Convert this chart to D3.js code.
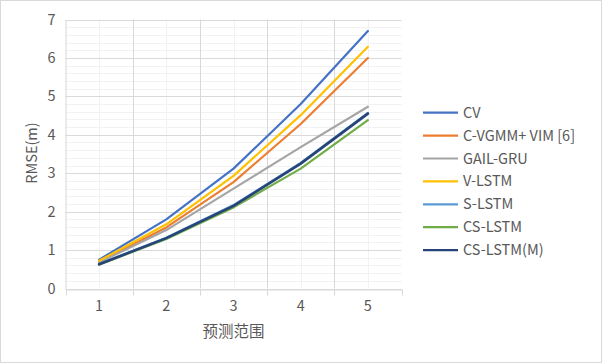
<!DOCTYPE html>
<html>
<head>
<meta charset="utf-8">
<script src="https://cdn.jsdelivr.net/npm/d3@7"></script>
<style>
body { margin: 0; background: #fff; }
text { font-family: "Noto Sans CJK SC", "Noto Sans", sans-serif; fill: #595959; }
</style>
</head>
<body>
<script>
var categories = [1, 2, 3, 4, 5]
var yTicks = [0, 1, 2, 3, 4, 5, 6, 7]
var seriesNames = ["CV", "C-VGMM+ VIM [6]", "GAIL-GRU", "V-LSTM", "S-LSTM", "CS-LSTM", "CS-LSTM(M)"]
var seriesColors = ["#4472C4", "#ED7D31", "#A5A5A5", "#FFC000", "#5B9BD5", "#70AD47", "#264478"]
var cv = [0.75, 1.80, 3.12, 4.80, 6.70]
var cvgmm = [0.70, 1.59, 2.77, 4.28, 6.00]
var gail = [0.68, 1.52, 2.60, 3.68, 4.73]
var vlstm = [0.72, 1.67, 2.93, 4.51, 6.29]
var slstm = [0.64, 1.32, 2.17, 3.27, 4.57]
var cslstm = [0.62, 1.29, 2.11, 3.12, 4.38]
var cslstmM = [0.63, 1.31, 2.15, 3.25, 4.55]
var seriesValues = [cv, cvgmm, gail, vlstm, slstm, cslstm, cslstmM]

var width = 602
var height = 364
var margin = { top: 19.5, bottom: 75.5, left: 65.5, right: 200.5 }

var svg = d3.select("body").append("svg")
    .attr("width", width)
    .attr("height", height)

svg.append("rect")
    .attr("x", 0.5).attr("y", 0.5)
    .attr("width", width - 1).attr("height", height - 2)
    .attr("fill", "#fff")
    .attr("stroke", "#d9d9d9")

var escalaX = d3.scaleBand()
    .domain(categories)
    .range([margin.left, width - margin.right])

var escalaY = d3.scaleLinear()
    .domain([0, 7])
    .range([height - margin.bottom, margin.top])

// minor gridlines
var minor = d3.range(0, 7.01, 0.2).filter(v => Math.abs(v - Math.round(v)) > 0.01)
svg.append("g").selectAll("line").data(minor).enter().append("line")
    .attr("x1", margin.left).attr("x2", width - margin.right)
    .attr("y1", d => Math.round(escalaY(d)) + 0.5).attr("y2", d => Math.round(escalaY(d)) + 0.5)
    .attr("stroke", "#f2f2f2")
svg.append("g").selectAll("line").data(categories).enter().append("line")
    .attr("x1", d => Math.round(escalaX(d) + escalaX.bandwidth() / 2) + 0.5)
    .attr("x2", d => Math.round(escalaX(d) + escalaX.bandwidth() / 2) + 0.5)
    .attr("y1", margin.top).attr("y2", height - margin.bottom)
    .attr("stroke", "#f2f2f2")

// major gridlines
svg.append("g").selectAll("line").data(yTicks).enter().append("line")
    .attr("x1", margin.left).attr("x2", width - margin.right)
    .attr("y1", d => Math.round(escalaY(d)) + 0.5).attr("y2", d => Math.round(escalaY(d)) + 0.5)
    .attr("stroke", "#d9d9d9")
svg.append("g").selectAll("line").data(categories.slice(1)).enter().append("line")
    .attr("x1", d => Math.round(escalaX(d)) + 0.5).attr("x2", d => Math.round(escalaX(d)) + 0.5)
    .attr("y1", margin.top).attr("y2", height - margin.bottom)
    .attr("stroke", "#d9d9d9")

// y axis labels
var ejeY = d3.axisLeft(escalaY).tickValues(yTicks).tickFormat(d3.format("d")).tickSize(0).tickPadding(10)
var gy = svg.append("g")
    .attr("transform", "translate(" + margin.left + ",0)")
    .call(ejeY)
gy.select(".domain").attr("stroke", "#d9d9d9")
gy.selectAll("text").style("font-size", "14.5px").attr("fill", "#595959")

// x axis
var ejeX = d3.axisBottom(escalaX).tickSize(0).tickPadding(11)
var gx = svg.append("g")
    .attr("transform", "translate(0," + (Math.round(escalaY(0)) + 0.5) + ")")
    .call(ejeX)
gx.select(".domain").attr("stroke", "#d9d9d9")
gx.selectAll("text").style("font-size", "14.5px").attr("fill", "#595959")
var bounds = categories.map(d => escalaX(d)).concat([width - margin.right])
gx.append("g").selectAll("line").data(bounds).enter().append("line")
    .attr("x1", d => Math.round(d) + 0.5).attr("x2", d => Math.round(d) + 0.5)
    .attr("y1", 0).attr("y2", 6)
    .attr("stroke", "#d9d9d9")

// titles
svg.append("text")
    .attr("x", (margin.left + width - margin.right) / 2)
    .attr("y", 337)
    .attr("text-anchor", "middle")
    .style("font-size", "15.5px")
    .text("预测范围")
svg.append("text")
    .attr("transform", "translate(37,153) rotate(-90)")
    .attr("text-anchor", "middle")
    .style("font-size", "14.5px")
    .text("RMSE(m)")

// lines
var linea = d3.line()
    .x((d, i) => escalaX(categories[i]) + escalaX.bandwidth() / 2)
    .y(d => escalaY(d))
svg.append("g").selectAll("path").data(seriesValues).enter().append("path")
    .attr("fill", "none")
    .attr("stroke", (d, i) => seriesColors[i])
    .attr("stroke-width", (d, i) => i == 6 ? 2.6 : 2.2)
    .attr("stroke-linejoin", "round")
    .attr("stroke-linecap", "round")
    .attr("d", linea)

// legend
var leyenda = svg.append("g").selectAll("g").data(seriesNames).enter().append("g")
    .attr("transform", (d, i) => "translate(423," + (112.7 + i * 22.9) + ")")
leyenda.append("line")
    .attr("x1", 0).attr("x2", 35)
    .attr("stroke", (d, i) => seriesColors[i])
    .attr("stroke-width", 2.2)
leyenda.append("text")
    .attr("x", 40).attr("y", 5)
    .style("font-size", "14.5px")
    .text(d => d)
</script>
</body>
</html>
